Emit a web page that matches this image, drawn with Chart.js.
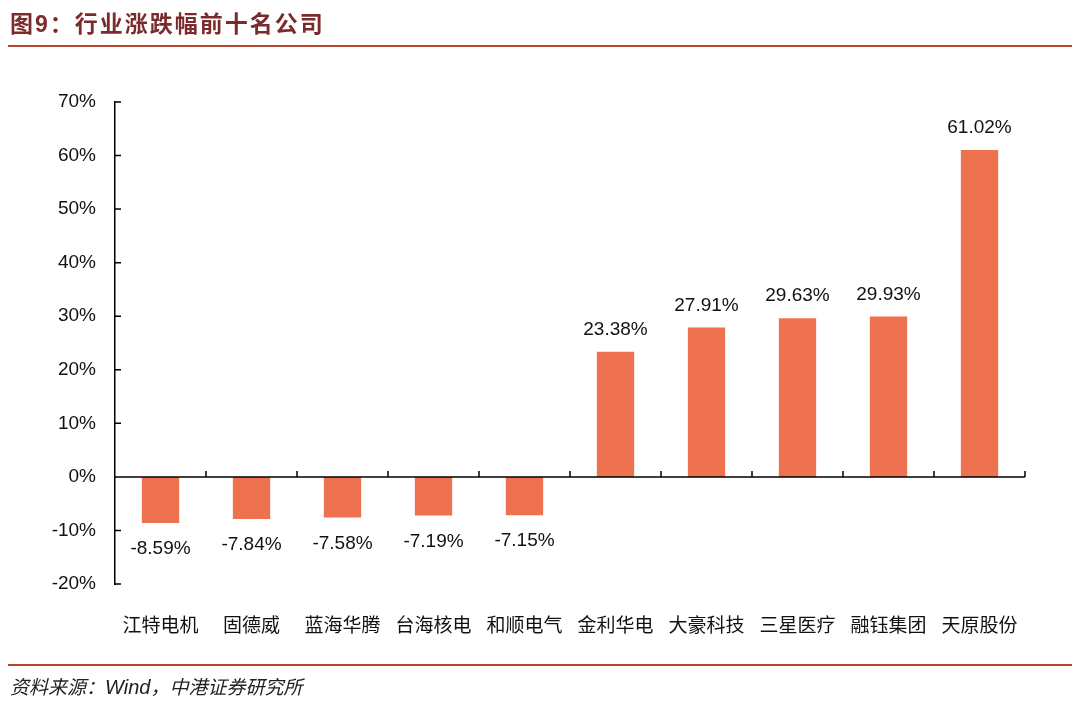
<!DOCTYPE html>
<html><head><meta charset="utf-8">
<script src="https://cdn.jsdelivr.net/npm/chart.js@4/dist/chart.umd.min.js"></script>
<style>
html,body{margin:0;padding:0;background:#fff;width:1080px;height:713px;overflow:hidden;position:relative;}
#title{position:absolute;left:10px;top:7px;font-family:"Noto Sans CJK SC","Liberation Sans",sans-serif;font-weight:bold;font-size:23px;color:#7B2B2B;line-height:30px;letter-spacing:2px;}
#title .num{font-family:"Liberation Sans",Arial,sans-serif;}
#line1{position:absolute;left:8px;top:45px;width:1064px;height:2px;background:#B8472F;}
#line2{position:absolute;left:8px;top:664px;width:1064px;height:2px;background:#B8472F;}
#foot{position:absolute;left:10px;top:673px;font-family:"Noto Sans CJK SC","Liberation Sans",sans-serif;font-style:italic;font-size:19px;color:#222;line-height:26px;}
#foot .en{font-family:"Liberation Sans",Arial,sans-serif;font-size:20px;}
canvas{position:absolute;left:0;top:0;}
</style></head>
<body>
<canvas id="c" width="1080" height="713"></canvas>
<div id="title">图<span class="num">9</span>：行业涨跌幅前十名公司</div>
<div id="line1"></div>
<div id="foot">资料来源：<span class="en">Wind</span>，中港证券研究所</div>
<div id="line2"></div>
<script>
const categories = ["江特电机","固德威","蓝海华腾","台海核电","和顺电气","金利华电","大豪科技","三星医疗","融钰集团","天原股份"];
const changes = [-8.59,-7.84,-7.58,-7.19,-7.15,23.38,27.91,29.63,29.93,61.02];
const yTicks = [-20,-10,0,10,20,30,40,50,60,70];

const axisPlugin = {
  id:'axisPlugin',
  afterDatasetsDraw(chart){
    const ctx = chart.ctx, xs = chart.scales.x, ys = chart.scales.y;
    const y0 = ys.getPixelForValue(0);
    const step = xs.getPixelForValue(1) - xs.getPixelForValue(0);
    ctx.save();
    ctx.strokeStyle = '#000'; ctx.lineWidth = 1.5;
    ctx.beginPath();
    ctx.moveTo(xs.left, y0); ctx.lineTo(xs.right, y0);
    for (let i = 1; i <= categories.length; i++) {
      const x = xs.getPixelForValue(i) - step/2;
      ctx.moveTo(x, y0); ctx.lineTo(x, y0 - 6);
    }
    yTicks.forEach(v => {
      const y = ys.getPixelForValue(v);
      ctx.moveTo(ys.right, y); ctx.lineTo(ys.right + 6, y);
    });
    ctx.stroke();
    ctx.fillStyle = '#111';
    ctx.font = '19px "Liberation Sans", Arial, sans-serif';
    ctx.textAlign = 'center'; ctx.textBaseline = 'middle';
    const meta = chart.getDatasetMeta(0);
    meta.data.forEach((el, i) => {
      const v = changes[i];
      const y = v >= 0 ? el.y - 22 : el.y + 26;
      ctx.fillText(v.toFixed(2) + '%', el.x, y);
    });
    ctx.restore();
  }
};

new Chart(document.getElementById('c'), {
  type:'bar',
  data:{ labels:categories, datasets:[{ data:changes, backgroundColor:'#EE7150', borderWidth:0, categoryPercentage:1, barPercentage:0.41 }] },
  options:{
    responsive:false, animation:false,
    layout:{ padding:{ left:0, right:55, top:102, bottom:0 } },
    plugins:{ legend:{display:false}, tooltip:{enabled:false} },
    scales:{
      x:{
        grid:{display:false, drawTicks:false},
        border:{display:false},
        ticks:{ color:'#111', padding:29, font:{ family:'"Noto Sans CJK SC", sans-serif', size:19 } },
        afterFit(s){ s.height = 129; }
      },
      y:{
        min:-20, max:70,
        afterBuildTicks(s){ s.ticks = yTicks.map(v => ({value:v})); },
        grid:{display:false, drawTicks:false},
        border:{display:true, color:'#000', width:1.5},
        ticks:{ color:'#111', padding:19, callback:v => v + '%', font:{ family:'"Liberation Sans", Arial, sans-serif', size:19 } },
        afterFit(s){ s.width = 115; }
      }
    }
  },
  plugins:[axisPlugin]
});
</script>
</body></html>
